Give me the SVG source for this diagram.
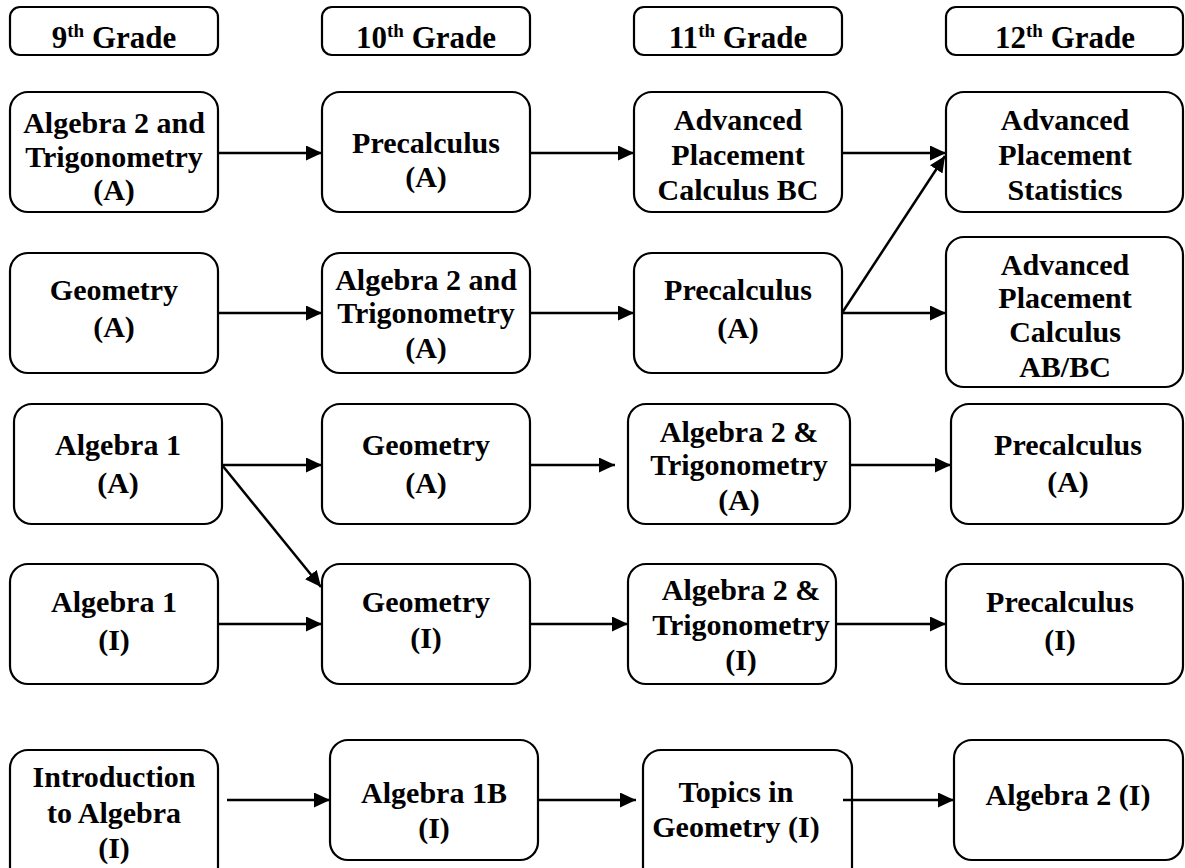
<svg xmlns="http://www.w3.org/2000/svg" width="1185" height="868" viewBox="0 0 1185 868">
<style>
.box{fill:#fff;stroke:#000;stroke-width:2.2}
.t{font-family:"Liberation Serif","Times New Roman",serif;font-weight:bold;font-size:30px;text-anchor:middle;fill:#000}
.h{font-size:31px}
.conn line{stroke:#000;stroke-width:2.5;fill:none}
</style>
<defs>
<marker id="arr" markerUnits="userSpaceOnUse" markerWidth="17" markerHeight="15" refX="16" refY="7.5" orient="auto">
<path d="M0,0 L16,7.5 L0,15 z" fill="#000"/>
</marker>
</defs>
<rect width="1185" height="868" fill="#fff"/>

<g id="h9"><rect class="box" x="10" y="7" width="208" height="48" rx="10"/><text class="t h" x="114" y="48">9<tspan font-size="19" dy="-11">th</tspan><tspan dy="11"> Grade</tspan></text></g>
<g id="h10"><rect class="box" x="322" y="7" width="208" height="48" rx="10"/><text class="t h" x="426" y="48">10<tspan font-size="19" dy="-11">th</tspan><tspan dy="11"> Grade</tspan></text></g>
<g id="h11"><rect class="box" x="634" y="7" width="208" height="48" rx="10"/><text class="t h" x="738" y="48">11<tspan font-size="19" dy="-11">th</tspan><tspan dy="11"> Grade</tspan></text></g>
<g id="h12"><rect class="box" x="946" y="7" width="237" height="48" rx="10"/><text class="t h" x="1065" y="48">12<tspan font-size="19" dy="-11">th</tspan><tspan dy="11"> Grade</tspan></text></g>

<g id="r1c1"><rect class="box" x="10" y="92" width="208" height="120" rx="18"/><text class="t" x="114" y="133">Algebra 2 and</text><text class="t" x="114" y="167">Trigonometry</text><text class="t" x="114" y="200">(A)</text></g>
<g id="r1c2"><rect class="box" x="322" y="92" width="208" height="120" rx="18"/><text class="t" x="426" y="153">Precalculus</text><text class="t" x="426" y="187">(A)</text></g>
<g id="r1c3"><rect class="box" x="634" y="92" width="208" height="120" rx="18"/><text class="t" x="738" y="130">Advanced</text><text class="t" x="738" y="165">Placement</text><text class="t" x="738" y="200">Calculus BC</text></g>
<g id="r1c4"><rect class="box" x="946" y="92" width="237" height="120" rx="18"/><text class="t" x="1065" y="130">Advanced</text><text class="t" x="1065" y="165">Placement</text><text class="t" x="1065" y="200">Statistics</text></g>

<g id="r2c1"><rect class="box" x="10" y="253" width="208" height="120" rx="18"/><text class="t" x="114" y="300">Geometry</text><text class="t" x="114" y="337">(A)</text></g>
<g id="r2c2"><rect class="box" x="322" y="253" width="208" height="120" rx="18"/><text class="t" x="426" y="290">Algebra 2 and</text><text class="t" x="426" y="323">Trigonometry</text><text class="t" x="426" y="358">(A)</text></g>
<g id="r2c3"><rect class="box" x="634" y="253" width="208" height="120" rx="18"/><text class="t" x="738" y="300">Precalculus</text><text class="t" x="738" y="338">(A)</text></g>
<g id="r2c4"><rect class="box" x="946" y="237" width="237" height="150" rx="18"/><text class="t" x="1065" y="275">Advanced</text><text class="t" x="1065" y="308">Placement</text><text class="t" x="1065" y="342">Calculus</text><text class="t" x="1065" y="377">AB/BC</text></g>

<g id="r3c1"><rect class="box" x="14" y="404" width="208" height="120" rx="18"/><text class="t" x="118" y="455">Algebra 1</text><text class="t" x="118" y="493">(A)</text></g>
<g id="r3c2"><rect class="box" x="322" y="404" width="208" height="120" rx="18"/><text class="t" x="426" y="455">Geometry</text><text class="t" x="426" y="493">(A)</text></g>
<g id="r3c3"><rect class="box" x="628" y="404" width="222" height="120" rx="18"/><text class="t" x="739" y="442">Algebra 2 &amp;</text><text class="t" x="739" y="475">Trigonometry</text><text class="t" x="739" y="510">(A)</text></g>
<g id="r3c4"><rect class="box" x="951" y="404" width="232" height="120" rx="18"/><text class="t" x="1068" y="455">Precalculus</text><text class="t" x="1068" y="492">(A)</text></g>

<g id="r4c1"><rect class="box" x="10" y="564" width="208" height="120" rx="18"/><text class="t" x="114" y="612">Algebra 1</text><text class="t" x="114" y="650">(I)</text></g>
<g id="r4c2"><rect class="box" x="322" y="564" width="208" height="120" rx="18"/><text class="t" x="426" y="612">Geometry</text><text class="t" x="426" y="648">(I)</text></g>
<g id="r4c3"><rect class="box" x="628" y="564" width="208" height="120" rx="18"/><text class="t" x="741" y="600">Algebra 2 &amp;</text><text class="t" x="741" y="635">Trigonometry</text><text class="t" x="741" y="670">(I)</text></g>
<g id="r4c4"><rect class="box" x="946" y="564" width="237" height="120" rx="18"/><text class="t" x="1060" y="612">Precalculus</text><text class="t" x="1060" y="650">(I)</text></g>

<g id="r5c1"><rect class="box" x="10" y="750" width="208" height="140" rx="18"/><text class="t" x="114" y="787">Introduction</text><text class="t" x="114" y="823">to Algebra</text><text class="t" x="114" y="858">(I)</text></g>
<g id="r5c2"><rect class="box" x="330" y="740" width="208" height="120" rx="18"/><text class="t" x="434" y="803">Algebra 1B</text><text class="t" x="434" y="838">(I)</text></g>
<g id="r5c3"><rect class="box" x="643" y="750" width="209" height="140" rx="18"/><text class="t" x="736" y="802">Topics in</text><text class="t" x="736" y="837">Geometry (I)</text></g>
<g id="r5c4"><rect class="box" x="954" y="740" width="229" height="120" rx="18"/><text class="t" x="1068" y="805">Algebra 2 (I)</text></g>

<g id="connectors" class="conn">
<line x1="218" y1="153" x2="322" y2="153" marker-end="url(#arr)"/>
<line x1="530" y1="153" x2="634" y2="153" marker-end="url(#arr)"/>
<line x1="842" y1="153" x2="946" y2="153" marker-end="url(#arr)"/>
<line x1="218" y1="313" x2="322" y2="313" marker-end="url(#arr)"/>
<line x1="530" y1="313" x2="634" y2="313" marker-end="url(#arr)"/>
<line x1="842" y1="313" x2="946" y2="313" marker-end="url(#arr)"/>
<line x1="842" y1="313" x2="945" y2="156" marker-end="url(#arr)"/>
<line x1="222" y1="465" x2="322" y2="465" marker-end="url(#arr)"/>
<line x1="530" y1="465" x2="615" y2="465" marker-end="url(#arr)"/>
<line x1="850" y1="465" x2="951" y2="465" marker-end="url(#arr)"/>
<line x1="222" y1="465" x2="321" y2="587" marker-end="url(#arr)"/>
<line x1="218" y1="624" x2="322" y2="624" marker-end="url(#arr)"/>
<line x1="530" y1="624" x2="628" y2="624" marker-end="url(#arr)"/>
<line x1="836" y1="624" x2="946" y2="624" marker-end="url(#arr)"/>
<line x1="227" y1="800" x2="330" y2="800" marker-end="url(#arr)"/>
<line x1="538" y1="800" x2="636" y2="800" marker-end="url(#arr)"/>
<line x1="843" y1="800" x2="954" y2="800" marker-end="url(#arr)"/>
</g>
</svg>
